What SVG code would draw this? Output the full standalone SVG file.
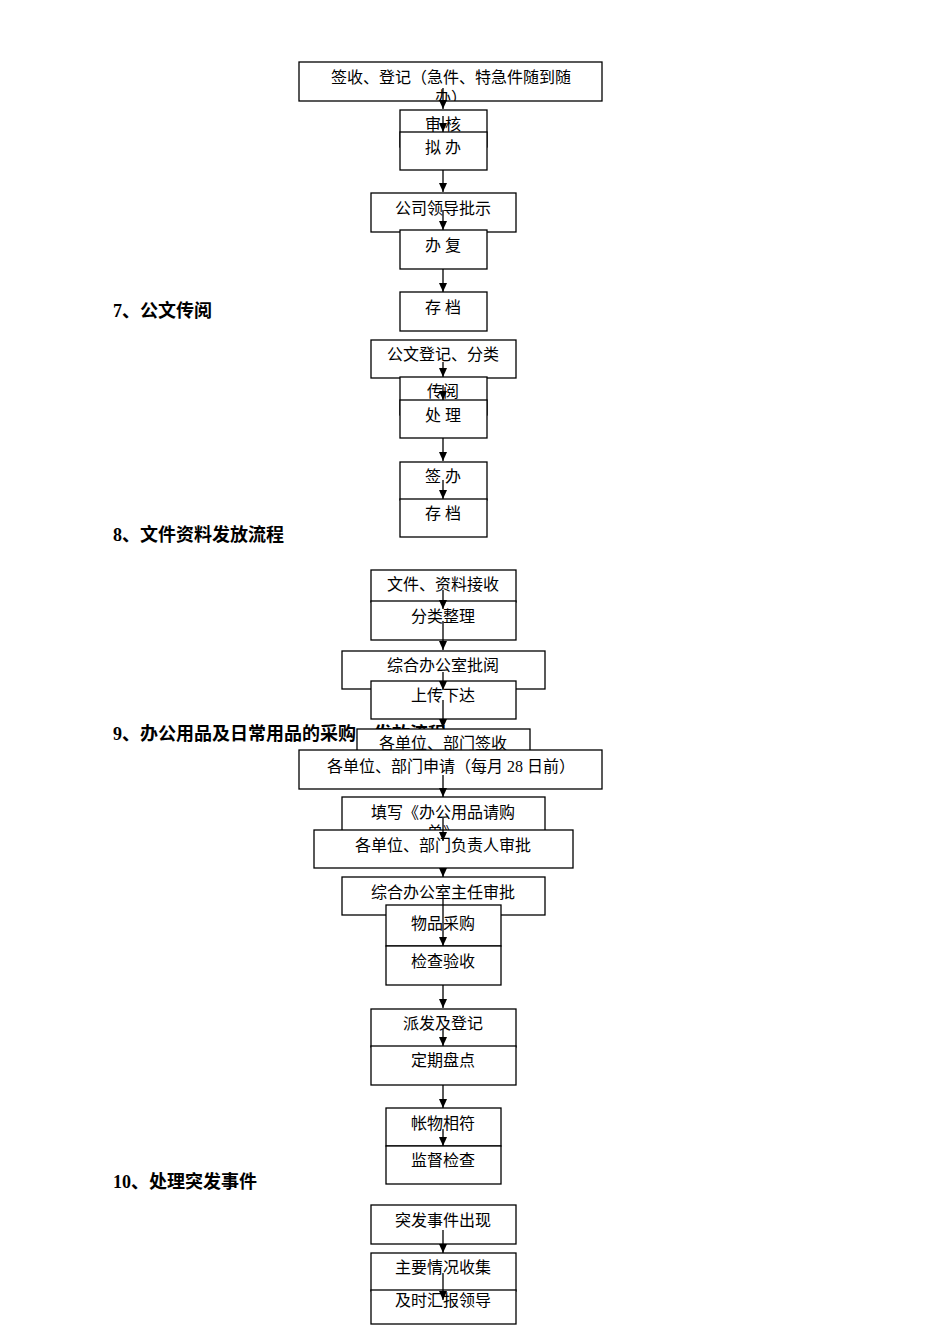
<svg xmlns="http://www.w3.org/2000/svg" width="950" height="1344" viewBox="0 0 950 1344">
<style>
.b{fill:#fff;stroke:#000;stroke-width:1.3}
.t{font-family:"Liberation Serif","Noto Sans CJK SC",serif;font-size:16px;text-anchor:middle;fill:#000}
.h{font-family:"Liberation Serif","Noto Sans CJK SC",serif;font-size:18px;font-weight:bold;fill:#000}
.c line{stroke:#000;stroke-width:1.3;marker-end:url(#a)}
</style>
<defs>
<marker id="a" markerWidth="9" markerHeight="8" refX="9" refY="4" orient="auto" markerUnits="userSpaceOnUse" viewBox="0 0 9 8"><path d="M0,0L9,4L0,8Z" fill="#000"/></marker>
<clipPath id="c1"><rect x="299" y="62" width="303" height="39"/></clipPath>
<clipPath id="c2"><rect x="342" y="797" width="203" height="38"/></clipPath>
</defs>
<text class="h" x="113" y="317">7、公文传阅</text>
<text class="h" x="113" y="541">8、文件资料发放流程</text>
<text class="h" x="113" y="740">9、办公用品及日常用品的采购、发放流程</text>
<text class="h" x="113" y="1188">10、处理突发事件</text>
<g id="n1"><rect class="b" x="299" y="62" width="303" height="39"/><g clip-path="url(#c1)"><text class="t" x="451" y="83">签收、登记（急件、特急件随到随</text><text class="t" x="451" y="103">办）</text></g></g>
<g id="n2"><rect class="b" x="400" y="110" width="87" height="37"/><text class="t" x="443" y="130">审 核</text></g>
<g id="n3"><rect class="b" x="400" y="132" width="87" height="38"/><text class="t" x="443" y="153">拟 办</text></g>
<g id="n4"><rect class="b" x="371" y="193" width="145" height="39"/><text class="t" x="443" y="214">公司领导批示</text></g>
<g id="n5"><rect class="b" x="400" y="230" width="87" height="39"/><text class="t" x="443" y="251">办 复</text></g>
<g id="n6"><rect class="b" x="400" y="292" width="87" height="39"/><text class="t" x="443" y="313">存 档</text></g>
<g id="n7"><rect class="b" x="371" y="340" width="145" height="38"/><text class="t" x="443" y="360">公文登记、分类</text></g>
<g id="n8"><rect class="b" x="400" y="377" width="87" height="38"/><text class="t" x="443" y="397">传阅</text></g>
<g id="n9"><rect class="b" x="400" y="400" width="87" height="38"/><text class="t" x="443" y="421">处 理</text></g>
<g id="n10"><rect class="b" x="400" y="462" width="87" height="38"/><text class="t" x="443" y="482">签 办</text></g>
<g id="n11"><rect class="b" x="400" y="499" width="87" height="38"/><text class="t" x="443" y="519">存 档</text></g>
<g id="n12"><rect class="b" x="371" y="570" width="145" height="32"/><text class="t" x="443" y="590">文件、资料接收</text></g>
<g id="n13"><rect class="b" x="371" y="601" width="145" height="39"/><text class="t" x="443" y="622">分类整理</text></g>
<g id="n14"><rect class="b" x="342" y="651" width="203" height="38"/><text class="t" x="443" y="671">综合办公室批阅</text></g>
<g id="n15"><rect class="b" x="371" y="681" width="145" height="38"/><text class="t" x="443" y="701">上传下达</text></g>
<g id="n16"><rect class="b" x="357" y="729" width="173" height="38"/><text class="t" x="443" y="749">各单位、部门签收</text></g>
<g id="n17"><rect class="b" x="299" y="750" width="303" height="39"/><text class="t" x="451" y="772">各单位、部门申请（每月 28 日前）</text></g>
<g id="n18"><rect class="b" x="342" y="797" width="203" height="38"/><g clip-path="url(#c2)"><text class="t" x="443" y="818">填写《办公用品请购</text><text class="t" x="443" y="838">单》</text></g></g>
<g id="n19"><rect class="b" x="314" y="830" width="259" height="38"/><text class="t" x="443" y="851">各单位、部门负责人审批</text></g>
<g id="n20"><rect class="b" x="342" y="877" width="203" height="38"/><text class="t" x="443" y="898">综合办公室主任审批</text></g>
<g id="n21"><rect class="b" x="386" y="905" width="115" height="41"/><text class="t" x="443" y="929">物品采购</text></g>
<g id="n22"><rect class="b" x="386" y="946" width="115" height="39"/><text class="t" x="443" y="967">检查验收</text></g>
<g id="n23"><rect class="b" x="371" y="1009" width="145" height="38"/><text class="t" x="443" y="1029">派发及登记</text></g>
<g id="n24"><rect class="b" x="371" y="1046" width="145" height="39"/><text class="t" x="443" y="1066">定期盘点</text></g>
<g id="n25"><rect class="b" x="386" y="1108" width="115" height="38"/><text class="t" x="443" y="1129">帐物相符</text></g>
<g id="n26"><rect class="b" x="386" y="1146" width="115" height="38"/><text class="t" x="443" y="1166">监督检查</text></g>
<g id="n27"><rect class="b" x="371" y="1205" width="145" height="39"/><text class="t" x="443" y="1226">突发事件出现</text></g>
<g id="n28"><rect class="b" x="371" y="1253" width="145" height="38"/><text class="t" x="443" y="1273">主要情况收集</text></g>
<g id="n29"><rect class="b" x="371" y="1290" width="145" height="34"/><text class="t" x="443" y="1306">及时汇报领导</text></g>
<g class="c">
<line x1="443" y1="88" x2="443" y2="109"/>
<line x1="443" y1="116" x2="443" y2="132"/>
<line x1="443" y1="170" x2="443" y2="192"/>
<line x1="443" y1="210" x2="443" y2="230"/>
<line x1="443" y1="269" x2="443" y2="292"/>
<line x1="443" y1="362" x2="443" y2="377"/>
<line x1="443" y1="385" x2="443" y2="400"/>
<line x1="443" y1="438" x2="443" y2="461"/>
<line x1="443" y1="480" x2="443" y2="499"/>
<line x1="443" y1="590" x2="443" y2="609"/>
<line x1="443" y1="621" x2="443" y2="650"/>
<line x1="443" y1="672" x2="443" y2="690"/>
<line x1="443" y1="700" x2="443" y2="728"/>
<line x1="443" y1="775" x2="443" y2="797"/>
<line x1="443" y1="818" x2="443" y2="841"/>
<line x1="443" y1="868" x2="443" y2="877"/>
<line x1="443" y1="898" x2="443" y2="946"/>
<line x1="443" y1="985" x2="443" y2="1008"/>
<line x1="443" y1="1029" x2="443" y2="1046"/>
<line x1="443" y1="1085" x2="443" y2="1108"/>
<line x1="443" y1="1129" x2="443" y2="1146"/>
<line x1="443" y1="1230" x2="443" y2="1253"/>
<line x1="443" y1="1273" x2="443" y2="1300"/>
</g>
</svg>
